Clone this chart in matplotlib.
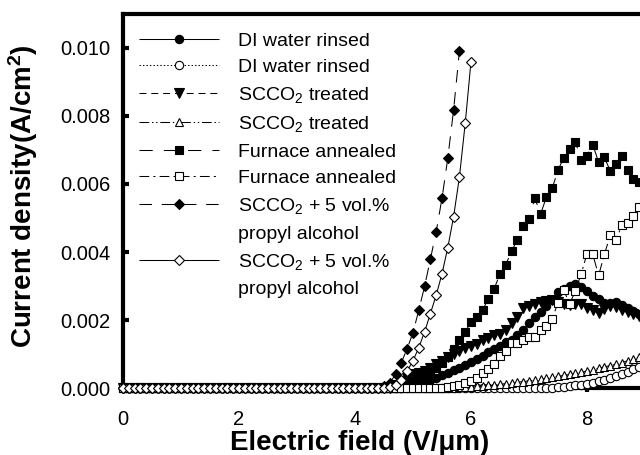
import numpy as np
import matplotlib
matplotlib.use('Agg')
import matplotlib.pyplot as plt
from matplotlib.lines import Line2D
from matplotlib.ticker import FormatStrFormatter

plt.rcParams['font.family'] = 'Liberation Sans'
plt.rcParams['mathtext.fontset'] = 'custom'
plt.rcParams['mathtext.rm'] = 'Liberation Sans'
plt.rcParams['mathtext.bf'] = 'Liberation Sans:bold'
plt.rcParams['mathtext.default'] = 'regular'
plt.rcParams['lines.scale_dashes'] = False

# field grid (V/um), 0.1 steps as measured
def grid(stop):
  return np.round(np.arange(0, stop + 0.05, 0.1), 1)

# DI water rinsed, filled circles
x_di1 = grid(8.9)
y_di1 = [0.0] * 49 + [
  0.00005, 0.0001, 0.00015, 0.0002, 0.00025, 0.0003, 0.00037, 0.00045, 0.00052, 0.0006,
  0.00068, 0.00076, 0.00085, 0.00095, 0.00105, 0.00115, 0.00125, 0.00135, 0.00141, 0.00155,
  0.0017, 0.0019, 0.00209, 0.00225, 0.0024, 0.00258, 0.00282, 0.00292, 0.003, 0.00307,
  0.00297, 0.00285, 0.00272, 0.00262, 0.0025, 0.0025, 0.00252, 0.00243, 0.00234, 0.00226,
  0.00219]

# DI water rinsed, open circles
x_di2 = grid(8.9)
y_di2 = [0.0] * 75 + [
  0.00002, 0.00004, 0.00006, 0.00008, 0.0001, 0.00013, 0.00016, 0.0002, 0.00025, 0.0003,
  0.00035, 0.0004, 0.00047, 0.00055, 0.00063]

# SCCO2 treated, filled triangles
x_sc1 = grid(8.9)
y_sc1 = [0.0] * 47 + [
  0.0001, 0.0002, 0.0003, 0.0004, 0.00045, 0.0005, 0.0006, 0.0007, 0.0008, 0.0009,
  0.001, 0.0011, 0.00118, 0.00125, 0.0013, 0.0014, 0.00148, 0.00155, 0.0016, 0.0017,
  0.0019, 0.0021, 0.00234, 0.0024, 0.00248, 0.00253, 0.00256, 0.00258, 0.00252, 0.00248,
  0.00245, 0.00248, 0.00246, 0.00235, 0.00228, 0.0022, 0.00232, 0.0024, 0.00238, 0.0023,
  0.00224, 0.00218, 0.00212]

# SCCO2 treated, open triangles
x_sc2 = grid(8.9)
y_sc2 = [0.0] * 58 + [
  0.00002, 0.00003, 0.00004, 0.00005, 0.00006, 0.00008, 0.0001, 0.00011, 0.00013, 0.00015,
  0.00017, 0.00019, 0.00021, 0.00023, 0.00026, 0.00028, 0.00031, 0.00034, 0.00037, 0.0004,
  0.00043, 0.00046, 0.0005, 0.00054, 0.00058, 0.00062, 0.00066, 0.0007, 0.00075, 0.0008,
  0.00085, 0.0009]

# Furnace annealed, filled squares
x_fa1 = grid(8.9)
y_fa1 = [0.0] * 47 + [
  0.00005, 0.0001, 0.00015, 0.0002, 0.0003, 0.0004, 0.0005, 0.0006, 0.00075, 0.0009,
  0.00116, 0.0014, 0.00165, 0.00194, 0.00209, 0.00229, 0.00263, 0.00292, 0.00336, 0.00363,
  0.00403, 0.00436, 0.00476, 0.00496, 0.00558, 0.00512, 0.00561, 0.00587, 0.00641, 0.00677,
  0.00703, 0.00724, 0.0067, 0.00683, 0.00716, 0.00664, 0.00678, 0.00639, 0.00659, 0.00683,
  0.00642, 0.00615, 0.00607]

# Furnace annealed, open squares
x_fa2 = grid(8.9)
y_fa2 = [0.0] * 56 + [
  0.00003, 0.00006, 0.0001, 0.00015, 0.00022, 0.0003, 0.00045, 0.00055, 0.0007, 0.00095,
  0.0011, 0.00131, 0.00131, 0.0014, 0.00149, 0.00149, 0.0017, 0.00182, 0.00204, 0.00251,
  0.00287, 0.00248, 0.00285, 0.00336, 0.00395, 0.00393, 0.00331, 0.00393, 0.00449, 0.00436,
  0.00478, 0.00486, 0.00507, 0.00532]

# SCCO2 + 5 vol.% propyl alcohol, filled diamonds
x_pa1 = grid(5.8)
y_pa1 = [0.0] * 45 + [
  0.00005, 0.00015, 0.0004, 0.00075, 0.00116, 0.00163, 0.00229, 0.00299, 0.00379, 0.0046,
  0.00558, 0.00676, 0.00818, 0.0099]

# SCCO2 + 5 vol.% propyl alcohol, open diamonds
x_pa2 = grid(6.0)
y_pa2 = [0.0] * 46 + [
  0.00003, 0.0001, 0.00025, 0.0005, 0.0008, 0.00119, 0.00165, 0.00219, 0.00273, 0.00336,
  0.00413, 0.00504, 0.0062, 0.00778, 0.0096]

x_ticks = [0, 2, 4, 6, 8]
y_ticks = [0.0, 0.002, 0.004, 0.006, 0.008, 0.010]

LW = 0.75
series = [
  (x_di1, y_di1, 'o', 'k', (0, ()), 6.0, 'DI water rinsed'),
  (x_di2, y_di2, 'o', 'w', (0, (1, 1.5)), 6.0, 'DI water rinsed'),
  (x_sc1, y_sc1, 'v', 'k', (0, (5, 3.5)), 6.5, 'SCCO$_2$ treated'),
  (x_sc2, y_sc2, '^', 'w', (0, (7, 2, 1, 2, 1, 2)), 6.0, 'SCCO$_2$ treated'),
  (x_fa1, y_fa1, 's', 'k', (0, (9.5, 8)), 5.5, 'Furnace annealed'),
  (x_fa2, y_fa2, 's', 'w', (0, (7, 3, 1.5, 3)), 5.5, 'Furnace annealed'),
  (x_pa1, y_pa1, 'D', 'k', (0, (9, 7)), 5.0, 'SCCO$_2$ + 5 vol.%'),
  (x_pa2, y_pa2, 'D', 'w', (0, ()), 5.0, 'SCCO$_2$ + 5 vol.%'),
]

fig = plt.figure(figsize=(6.4, 4.55), dpi=100)
ax = fig.add_axes([123 / 640, 67 / 455, 10 * 58 / 640, 374 / 455])

handles = []
labels = []
for x, y, m, fc, ls, ms, lab in series:
  line, = ax.plot(x, y, marker=m, markersize=ms, markerfacecolor=fc,
                  markeredgecolor='k', markeredgewidth=0.8, color='k',
                  linewidth=LW, linestyle=ls, clip_on=False, zorder=3)
  handles.append(line)
  labels.append(lab)
  if lab.startswith('SCCO$_2$ +'):
    handles.append(Line2D([], [], linestyle='none', marker='none'))
    labels.append('propyl alcohol')

ax.set_xlim(0, 10)
ax.set_ylim(0, 0.011)
ax.set_xticks(x_ticks)
ax.set_yticks(y_ticks)
ax.yaxis.set_major_formatter(FormatStrFormatter('%.3f'))

for s in ['left', 'top', 'bottom']:
  ax.spines[s].set_linewidth(3)
ax.spines['right'].set_visible(False)

ax.tick_params(axis='y', direction='in', length=4, width=3, pad=9, labelsize=14.5)
ax.tick_params(axis='x', direction='out', length=3, width=3, pad=13, labelsize=14.5)

leg = ax.legend(handles, labels, loc='upper left', bbox_to_anchor=(139 / 640, 1 - 32 / 455),
                bbox_transform=fig.transFigure, frameon=False, fontsize=14,
                handlelength=4.1, handletextpad=1.0, borderpad=0, borderaxespad=0,
                labelspacing=0.46, numpoints=1)

fig.text(360 / 640, 1 - 443 / 455, 'Electric field (V/\u03bcm)', ha='center', va='center',
         fontsize=20, fontweight='bold')
fig.text(23 / 640, 1 - 196 / 455, 'Current density(A/cm$^{\\mathbf{2}}$)', rotation=90,
         ha='center', va='center', fontsize=20, fontweight='bold')

fig.savefig('out.png', dpi=100)
